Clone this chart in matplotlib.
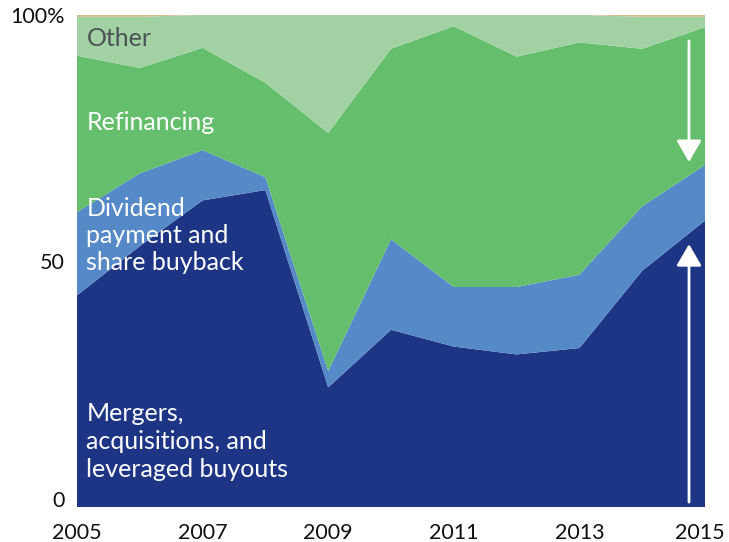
import matplotlib
matplotlib.use("Agg")
from matplotlib import pyplot as plt
from matplotlib.transforms import ScaledTranslation

plt.rcParams['font.family'] = ['Lato', 'DejaVu Sans']

years = [2005, 2006, 2007, 2008, 2009, 2010, 2011, 2012, 2013, 2014, 2015]
mergers = [43.0, 53.0, 62.3, 64.4, 24.3, 36.0, 32.6, 31.0, 32.3, 48.0, 58.2]
dividend = [16.9, 14.8, 10.2, 2.6, 3.3, 18.4, 12.1, 13.7, 14.9, 13.1, 11.3]
refinancing = [31.8, 21.4, 20.8, 19.2, 48.4, 38.7, 53.0, 46.8, 47.2, 32.0, 28.0]
unknown = [0.4, 0.4, 0, 0, 0, 0, 0, 0, 0, 0.4, 0.4]
other = [100 - m - d - r - u for m, d, r, u in zip(mergers, dividend, refinancing, unknown)]

colors = ["#1e3585", "#5589c7", "#64be6c", "#a2d2a4", "#d9b98f"]
xticks = [2005, 2007, 2009, 2011, 2013, 2015]
yticks = [0, 50, 100]
ylabels = ["0", "50", "100%"]

fig = plt.figure(figsize=(7.29, 5.42), dpi=100)
ax = fig.add_axes([0.1056, 0.0646, 0.8615, 0.908])
ax.stackplot(years, mergers, dividend, refinancing, other, unknown, colors=colors, linewidth=0)
ax.set_xlim(2005, 2015)
ax.set_ylim(0, 100)
for s in ax.spines.values():
    s.set_visible(False)
ax.set_xticks(xticks)
ax.set_yticks(yticks)
ax.set_yticklabels(ylabels)
ax.tick_params(axis="both", length=0, labelsize=15.5, colors="#111111")
ax.tick_params(axis="x", pad=11.5)
ax.tick_params(axis="y", pad=9)
ax.get_yticklabels()[0].set_va("baseline")
last = ax.get_xticklabels()[-1]
last.set_transform(last.get_transform() + ScaledTranslation(-5 / 100, 0, fig.dpi_scale_trans))

# series labels
fs = 18
ax.text(2005.15, 95.2, "Other", color="#4d5257", fontsize=fs, va="center", ha="left")
ax.text(2005.15, 78.2, "Refinancing", color="white", fontsize=fs, va="center", ha="left")
ax.text(2005.15, 55.2, "Dividend\npayment and\nshare buyback", color="white", fontsize=fs,
        va="center", ha="left", linespacing=1.22)
ax.text(2005.15, 13.3, "Mergers,\nacquisitions, and\nleveraged buyouts", color="white", fontsize=fs,
        va="center", ha="left", linespacing=1.25)

# arrows
arr = dict(arrowstyle="-|>,head_length=0.6,head_width=0.35", color="white", lw=2,
           mutation_scale=22, shrinkA=0, shrinkB=0)
ax.annotate("", xy=(2014.745, 70.1), xytext=(2014.745, 94.7), arrowprops=arr)
ax.annotate("", xy=(2014.745, 53.4), xytext=(2014.745, 1.0), arrowprops=arr)

plt.savefig("out.png", dpi=100)
